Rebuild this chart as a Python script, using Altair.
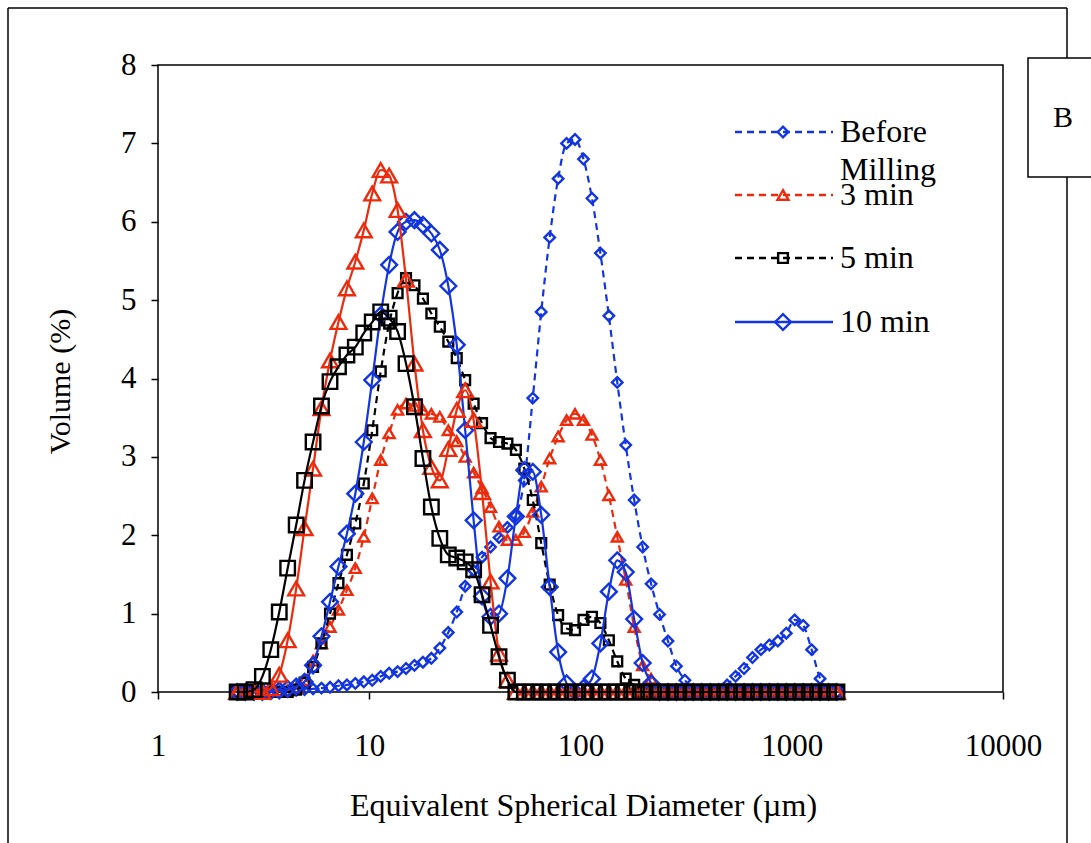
import altair as alt
import pandas as pd

# Particle-size bins (µm), log-spaced
bins = [2.37, 2.59, 2.85, 3.12, 3.42, 3.75, 4.11, 4.51, 4.94, 5.42,
        5.94, 6.52, 7.15, 7.84, 8.59, 9.42, 10.33, 11.33, 12.42, 13.62,
        14.93, 16.37, 17.95, 19.68, 21.58, 23.67, 25.95, 28.45, 31.20, 34.20,
        37.51, 41.13, 45.09, 49.44, 54.21, 59.44, 65.18, 71.47, 78.36, 85.92,
        94.21, 103.3, 113.3, 124.2, 136.2, 149.3, 163.7, 179.5, 196.9, 215.8,
        236.7, 259.5, 284.5, 312.0, 342.0, 375.1, 411.3, 450.9, 494.4, 542.1,
        594.4, 651.8, 714.7, 783.6, 859.2, 942.1, 1033, 1133, 1242, 1362,
        1493, 1637]

before_milling = [0, 0, 0, 0, 0.01, 0.01, 0.02, 0.02, 0.03, 0.04,
                  0.05, 0.06, 0.08, 0.09, 0.11, 0.13, 0.15, 0.2, 0.24, 0.26,
                  0.3, 0.34, 0.38, 0.43, 0.56, 0.76, 1.02, 1.35, 1.55, 1.72,
                  1.85, 1.97, 2.1, 2.25, 2.7, 3.75, 4.85, 5.8, 6.55, 7.0,
                  7.05, 6.8, 6.3, 5.6, 4.8, 3.95, 3.15, 2.45, 1.85, 1.38,
                  0.99, 0.65, 0.33, 0.15, 0.03, 0, 0, 0, 0.09, 0.2,
                  0.3, 0.44, 0.54, 0.6, 0.65, 0.75, 0.92, 0.85, 0.54, 0.17,
                  0, 0]

min3 = [0, 0, 0, 0, 0, 0, 0.02, 0.05, 0.15, 0.4,
        0.62, 0.83, 1.05, 1.3, 1.58, 1.98, 2.47, 2.96, 3.3, 3.6,
        3.68, 3.65, 3.6, 3.55, 3.51, 3.34, 3.2, 3.0, 2.8, 2.6,
        2.36, 2.11, 1.94, 1.94, 2.04, 2.3, 2.62, 2.98, 3.26, 3.47,
        3.55, 3.47, 3.28, 2.96, 2.51, 1.98, 1.43, 0.83, 0.34, 0.17,
        0.03, 0, 0, 0, 0, 0, 0, 0, 0, 0,
        0, 0, 0, 0, 0, 0, 0, 0, 0, 0,
        0, 0]

min5 = [0, 0, 0, 0, 0, 0, 0, 0.03, 0.12, 0.32,
        0.62, 1.0, 1.39, 1.75, 2.15, 2.66, 3.34, 4.09, 4.7, 5.09,
        5.28, 5.19, 5.02, 4.83, 4.66, 4.47, 4.26, 3.98, 3.68, 3.43,
        3.24, 3.19, 3.17, 3.09, 2.85, 2.45, 1.9, 1.37, 0.98, 0.81,
        0.79, 0.92, 0.96, 0.88, 0.66, 0.39, 0.17, 0.09, 0, 0,
        0, 0, 0, 0, 0, 0, 0, 0, 0, 0,
        0, 0, 0, 0, 0, 0, 0, 0, 0, 0,
        0, 0]

min10 = [0, 0, 0, 0, 0.01, 0.02, 0.04, 0.07, 0.13, 0.34,
         0.71, 1.15, 1.6, 2.02, 2.53, 3.19, 3.98, 4.81, 5.45, 5.87,
         6.0, 6.02, 5.96, 5.85, 5.64, 5.18, 4.43, 3.34, 2.19, 1.22,
         0.96, 1.0, 1.45, 2.24, 2.83, 2.81, 2.26, 1.34, 0.51, 0.11,
         0, 0.05, 0.17, 0.62, 1.28, 1.68, 1.53, 0.93, 0.37, 0.11,
         0, 0, 0, 0, 0, 0, 0, 0, 0, 0,
         0, 0, 0, 0, 0, 0, 0, 0, 0, 0,
         0, 0]

red_solid = [0, 0, 0, 0, 0.05, 0.22, 0.66, 1.32, 2.09, 2.85,
             3.62, 4.23, 4.72, 5.15, 5.49, 5.89, 6.36, 6.66, 6.59, 6.15,
             5.26, 4.19, 3.34, 2.87, 2.7, 3.1, 3.6, 3.85, 3.47, 2.55,
             1.41, 0.49, 0.15, 0, 0, 0, 0, 0, 0, 0,
             0, 0, 0, 0, 0, 0, 0, 0, 0, 0,
             0, 0, 0, 0, 0, 0, 0, 0, 0, 0,
             0, 0, 0, 0, 0, 0, 0, 0, 0, 0,
             0, 0]

black_solid = [0, 0, 0.03, 0.2, 0.54, 1.02, 1.58, 2.13, 2.7, 3.19,
               3.65, 3.96, 4.15, 4.3, 4.4, 4.58, 4.72, 4.85, 4.77, 4.6,
               4.19, 3.64, 2.98, 2.36, 1.96, 1.75, 1.71, 1.66, 1.56, 1.24,
               0.85, 0.45, 0.15, 0, 0, 0, 0, 0, 0, 0,
               0, 0, 0, 0, 0, 0, 0, 0, 0, 0,
               0, 0, 0, 0, 0, 0, 0, 0, 0, 0,
               0, 0, 0, 0, 0, 0, 0, 0, 0, 0,
               0, 0]

x_ticks = [1, 10, 100, 1000, 10000]
y_ticks = [0, 1, 2, 3, 4, 5, 6, 7, 8]

BLUE = "#1235e0"
RED = "#ec2a0c"
BLACK = "#000000"
FONT = "Liberation Serif"
W, H = 845, 627

x_enc = alt.X("d:Q",
              scale=alt.Scale(type="log", domain=[1, 10000]),
              axis=alt.Axis(values=x_ticks, format="d", labelFlush=False,
                            labelOverlap=False,
                            title="Equivalent Spherical Diameter (µm)",
                            titleFontSize=32,
                            titleX=425, titleY=113, titleBaseline="middle",
                            titleAlign="center"))
y_enc = alt.Y("v:Q",
              scale=alt.Scale(domain=[0, 8]),
              axis=alt.Axis(values=y_ticks, title="Volume (%)", labelFlush=False,
                            titleFontSize=30,
                            titleX=-98, titleY=316, titleAngle=270,
                            titleBaseline="middle", titleAlign="center"))


def series(vals, color, shape, size, dash=None):
    df = pd.DataFrame({"d": bins, "v": vals})
    base = alt.Chart(df)
    line_kw = dict(color=color, strokeWidth=2.2, interpolate="monotone")
    if dash:
        line_kw["strokeDash"] = dash
    line = base.mark_line(**line_kw).encode(x=x_enc, y=y_enc)
    pts = base.mark_point(shape=shape, size=size, color=color, filled=False,
                          strokeWidth=2.4, opacity=1).encode(x=x_enc, y=y_enc)
    return [line, pts]


one = pd.DataFrame({"k": [0]})


def rule(x1, x2, y1, y2, color=BLACK, width=1.5, dash=None):
    kw = dict(color=color, strokeWidth=width)
    if dash:
        kw["strokeDash"] = dash
    return alt.Chart(one).mark_rule(**kw).encode(
        x=alt.value(x1), x2=alt.value(x2), y=alt.value(y1), y2=alt.value(y2))


def text(t, x, y, size=32, align="left"):
    return alt.Chart(one).mark_text(text=t, font=FONT, fontSize=size, align=align,
                                    baseline="middle", color=BLACK).encode(
        x=alt.value(x), y=alt.value(y))


def legend_entry(y, label, color, shape, size, dash=None):
    kw = dict(color=color, strokeWidth=2.4)
    if dash:
        kw["strokeDash"] = dash
    ln = alt.Chart(one).mark_rule(**kw).encode(
        x=alt.value(577), x2=alt.value(675), y=alt.value(y), y2=alt.value(y))
    pt = alt.Chart(one).mark_point(shape=shape, size=size, color=color, filled=False,
                                   strokeWidth=2.4, opacity=1).encode(
        x=alt.value(625), y=alt.value(y))
    return [ln, pt, text(label, 682, y)]


DASH = [7, 5]
layers = []
# outer border of the figure
layers += [rule(-150, -150, -57, 790), rule(-150, 909, -57, -57), rule(909, 909, -57, 790)]
layers += series(before_milling, BLUE, "diamond", 110, DASH)
layers += series(min3, RED, "triangle-up", 120, DASH)
layers += series(min5, BLACK, "square", 95, DASH)
layers += series(min10, BLUE, "diamond", 250)
layers += series(red_solid, RED, "triangle-up", 250)
layers += series(black_solid, BLACK, "square", 210)
# legend
layers += legend_entry(67, "Before", BLUE, "diamond", 110, DASH)
layers += [text("Milling", 682, 105)]
layers += legend_entry(130, "3 min", RED, "triangle-up", 120, DASH)
layers += legend_entry(193, "5 min", BLACK, "square", 95, DASH)
layers += legend_entry(257, "10 min", BLUE, "diamond", 250)
# panel label box
box = alt.Chart(one).mark_rect(fill="white", stroke=BLACK, strokeWidth=1.5).encode(
    x=alt.value(870), x2=alt.value(945), y=alt.value(-7), y2=alt.value(112))
layers += [box, text("B", 905, 53, size=30, align="center")]

chart = alt.layer(*layers).properties(
    width=W, height=H,
    autosize=alt.AutoSizeParams(type="none"),
    padding={"left": 158, "top": 65, "right": 88, "bottom": 151},
    background="white",
).configure_view(
    stroke=BLACK, strokeWidth=1.5
).configure_axis(
    domain=False, grid=False, ticks=True, tickSize=7, tickWidth=1.5,
    tickColor=BLACK, labelFont=FONT, labelFontSize=31, labelColor=BLACK,
    titleFont=FONT, titleFontWeight="normal", titleColor=BLACK,
).configure_axisX(labelPadding=32).configure_axisY(labelPadding=15)

chart.save("out.html", embed_options={"renderer": "svg", "actions": False})
